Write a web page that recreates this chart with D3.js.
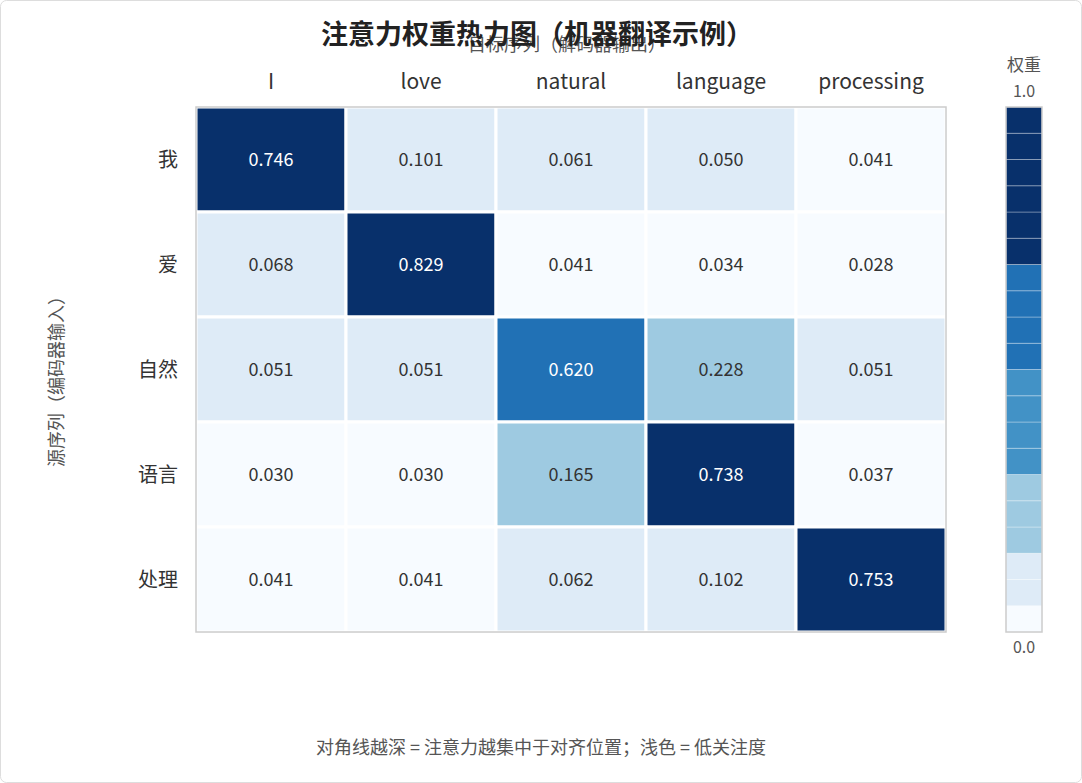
<!DOCTYPE html>
<html><head><meta charset="utf-8">
<script src="https://cdn.jsdelivr.net/npm/d3@7"></script>
<style>
body{margin:0;background:#fff;font-family:"Noto Sans CJK SC","Noto Sans",sans-serif;}
</style></head>
<body>
<svg id="svg" width="1082" height="783"></svg>
<script>
var targets = ["I", "love", "natural", "language", "processing"];
var sources = ["我", "爱", "自然", "语言", "处理"];
var weights = [
  [0.746, 0.101, 0.061, 0.050, 0.041],
  [0.068, 0.829, 0.041, 0.034, 0.028],
  [0.051, 0.051, 0.620, 0.228, 0.051],
  [0.030, 0.030, 0.165, 0.738, 0.037],
  [0.041, 0.041, 0.062, 0.102, 0.753]
];
var thresholds = [0.045, 0.145, 0.29, 0.49, 0.69];
var palette = ["#f7fbff", "#deebf7", "#9ecae1", "#4292c6", "#2171b5", "#08306b"];

var svg = d3.select("#svg");
svg.append("rect").attr("x",0.5).attr("y",0.5).attr("width",1081).attr("height",782)
  .attr("rx",6).attr("fill","#fff").attr("stroke","#ddd");

var color = d3.scaleThreshold().domain(thresholds).range(palette);
var x = d3.scaleBand().domain(targets).range([196, 946]);
var y = d3.scaleBand().domain(sources).range([107, 632]);

svg.append("text").attr("x",567).attr("y",51).attr("text-anchor","middle")
  .attr("font-size",18).attr("fill","#555").text("目标序列（解码器输出）");
svg.append("text").attr("x",537).attr("y",44).attr("text-anchor","middle")
  .attr("font-size",27).attr("font-weight","bold").attr("fill","#222").text("注意力权重热力图（机器翻译示例）");
svg.append("text").attr("transform","translate(63,377) rotate(-90)").attr("text-anchor","middle")
  .attr("font-size",18).attr("fill","#555").text("源序列（编码器输入）");

var cells = [];
weights.forEach(function(r, i){ r.forEach(function(v, j){ cells.push({s:sources[i], t:targets[j], v:v}); }); });

svg.append("g").selectAll("rect").data(cells).enter().append("rect")
  .attr("x", function(d){ return x(d.t); }).attr("y", function(d){ return y(d.s); })
  .attr("width", x.bandwidth()).attr("height", y.bandwidth())
  .attr("fill", function(d){ return color(d.v); }).attr("stroke","#fff").attr("stroke-width",3);
svg.append("rect").attr("x",196).attr("y",107).attr("width",750).attr("height",525)
  .attr("fill","none").attr("stroke","#ccc").attr("stroke-width",1.5);

svg.append("g").selectAll("text").data(cells).enter().append("text")
  .attr("x", function(d){ return x(d.t) + x.bandwidth()/2; })
  .attr("y", function(d){ return y(d.s) + y.bandwidth()/2 + 6; })
  .attr("text-anchor","middle").attr("font-size",18)
  .attr("fill", function(d){ return d.v > 0.5 ? "#fff" : "#333"; })
  .text(function(d){ return d.v.toFixed(3); });

svg.append("g").selectAll("text").data(targets).enter().append("text")
  .attr("x", function(d){ return x(d) + x.bandwidth()/2; }).attr("y", 89)
  .attr("text-anchor","middle").attr("font-size",21).attr("fill","#333").text(function(d){ return d; });
svg.append("g").selectAll("text").data(sources).enter().append("text")
  .attr("x", 178).attr("y", function(d){ return y(d) + y.bandwidth()/2 + 7; })
  .attr("text-anchor","end").attr("font-size",20).attr("fill","#333").text(function(d){ return d; });

// legend
var ly = d3.scaleLinear().domain([0, 1]).range([632, 107]);
var steps = d3.range(20).map(function(i){ return i / 20; });
svg.append("g").selectAll("rect").data(steps).enter().append("rect")
  .attr("x", 1006).attr("y", function(d){ return ly(d + 0.05); })
  .attr("width", 36).attr("height", ly(0) - ly(0.05))
  .attr("fill", function(d){ return color(d + 0.025); })
  .attr("stroke", "rgba(255,255,255,0.3)").attr("stroke-width", 1);
svg.append("rect").attr("x",1006).attr("y",107).attr("width",36).attr("height",525)
  .attr("fill","none").attr("stroke","#ccc").attr("stroke-width",1.5);
svg.append("text").attr("x",1024).attr("y",71).attr("text-anchor","middle").attr("font-size",17).attr("fill","#555").text("权重");
svg.append("text").attr("x",1024).attr("y",97).attr("text-anchor","middle").attr("font-size",16).attr("fill","#555").text("1.0");
svg.append("text").attr("x",1024).attr("y",653).attr("text-anchor","middle").attr("font-size",16).attr("fill","#555").text("0.0");

svg.append("text").attr("x",541).attr("y",754).attr("text-anchor","middle")
  .attr("font-size",18).attr("fill","#555").text("对角线越深 = 注意力越集中于对齐位置；浅色 = 低关注度");
</script>
</body></html>
